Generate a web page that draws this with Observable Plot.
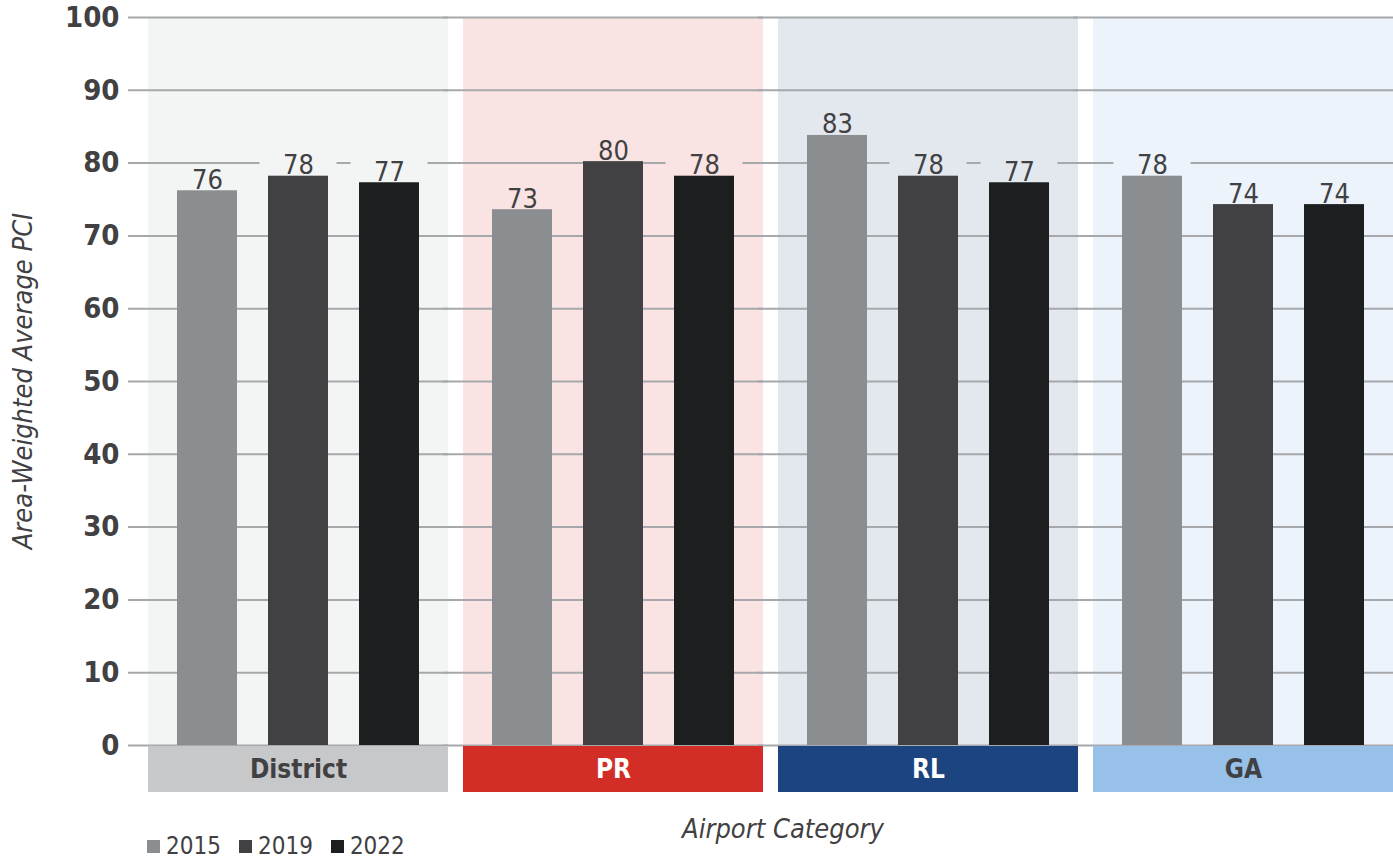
<!DOCTYPE html>
<html><head><meta charset="utf-8">
<script src="https://cdn.jsdelivr.net/npm/d3@7"></script>
<script src="https://cdn.jsdelivr.net/npm/@observablehq/plot@0.6"></script>
<style>
body{margin:0;background:#fff;}
#wrap{position:relative;width:1393px;height:861px;overflow:hidden;font-family:"Liberation Sans Narrow","DejaVu Sans Condensed","Roboto Condensed",sans-serif;color:#414042;}
#chart svg{display:block;}
.ytitle{position:absolute;left:22px;top:381px;transform:translate(-50%,-50%) rotate(-90deg);white-space:nowrap;font-style:italic;font-size:27px;}
.xtitle{position:absolute;left:783px;top:828px;transform:translate(-50%,-50%);white-space:nowrap;font-style:italic;font-size:27px;}
.legend{position:absolute;left:147px;top:833px;display:flex;gap:18px;font-size:24px;line-height:26px;}
.legend span{display:flex;align-items:center;}
.legend i{display:inline-block;width:13px;height:13px;margin-right:6px;}
</style></head><body>
<div id="wrap"><div id="chart"></div>
<div class="ytitle">Area-Weighted Average PCI</div>
<div class="xtitle">Airport Category</div>
<div class="legend" id="legend"></div>
</div>
<script>
const categories = ["District", "PR", "RL", "GA"];
const years = ["2015", "2019", "2022"];
const values2015 = [76.2, 73.6, 83.8, 78.2];
const values2019 = [78.2, 80.2, 78.2, 74.3];
const values2022 = [77.3, 78.2, 77.3, 74.3];
const labels2015 = ["76", "73", "83", "78"];
const labels2019 = ["78", "80", "78", "74"];
const labels2022 = ["77", "78", "77", "74"];
const yTicks = [0, 10, 20, 30, 40, 50, 60, 70, 80, 90, 100];

const yearColors = ["#8b8e91", "#414042", "#1d1e20"];
const panelColors = ["#f3f5f4", "#f9e4e3", "#e3e8ef", "#ecf3fa"];
const stripColors = ["#c7c8ca", "#d22e27", "#1c4481", "#97c1e8"];
const stripTextColors = ["#414042", "#ffffff", "#ffffff", "#414042"];

const seriesValues = [values2015, values2019, values2022];
const seriesLabels = [labels2015, labels2019, labels2022];
const rows = [];
categories.forEach((c, i) => {
  years.forEach((y, j) => {
    rows.push({category: c, year: y, value: seriesValues[j][i], label: seriesLabels[j][i]});
  });
});

const FONT = '"Liberation Sans Narrow","DejaVu Sans Condensed","Roboto Condensed",sans-serif';
const marks = [];
categories.forEach((c, i) => {
  marks.push(Plot.barY([c], {fx: d => d, y1: 0, y2: 100, fill: panelColors[i]}));
});
marks.push(Plot.ruleY(yTicks, {stroke: "#a6a8ab", strokeWidth: 2, insetLeft: -20}));
categories.forEach((c, i) => {
  marks.push(Plot.barY(rows.filter(r => r.category === c), {
    fx: "category", x: "year", y1: "value", y2: d => d.value + 3.4,
    fill: panelColors[i], insetLeft: -8.5, insetRight: -8.5
  }));
});
marks.push(Plot.barY(rows, {fx: "category", x: "year", y: "value", fill: "year"}));
marks.push(Plot.text(rows, {
  fx: "category", x: "year", y: "value", text: "label", dy: -2, lineAnchor: "bottom",
  fontSize: 27, fontWeight: "normal", fill: "#414042", fontFamily: FONT
}));
categories.forEach((c, i) => {
  marks.push(Plot.barY([c], {fx: d => d, y1: 0, y2: 0, insetTop: 1, insetBottom: -47, fill: stripColors[i]}));
  marks.push(Plot.text([c], {
    fx: d => d, y: 0, dy: 24, text: d => d, fill: stripTextColors[i],
    fontSize: 26, fontWeight: "bold", fontFamily: FONT
  }));
});

const chart = Plot.plot({
  width: 1393,
  height: 800,
  marginTop: 17,
  marginBottom: 55,
  marginLeft: 147,
  marginRight: 0,
  style: {fontFamily: FONT, fontSize: "29px", fontWeight: "bold", color: "#414042", background: "transparent", overflow: "visible"},
  fx: {domain: categories, axis: null, paddingInner: 15 / 315, paddingOuter: 0, label: null},
  x: {domain: years, axis: null, paddingInner: 0.337, paddingOuter: 0.3},
  y: {domain: [0, 100], ticks: yTicks, tickSize: 0, tickPadding: 29, label: null},
  color: {domain: years, range: yearColors},
  marks
});
document.getElementById("chart").appendChild(chart);

const legend = document.getElementById("legend");
years.forEach((y, j) => {
  const s = document.createElement("span");
  s.innerHTML = `<i style="background:${yearColors[j]}"></i>${y}`;
  legend.appendChild(s);
});
</script>
</body></html>
